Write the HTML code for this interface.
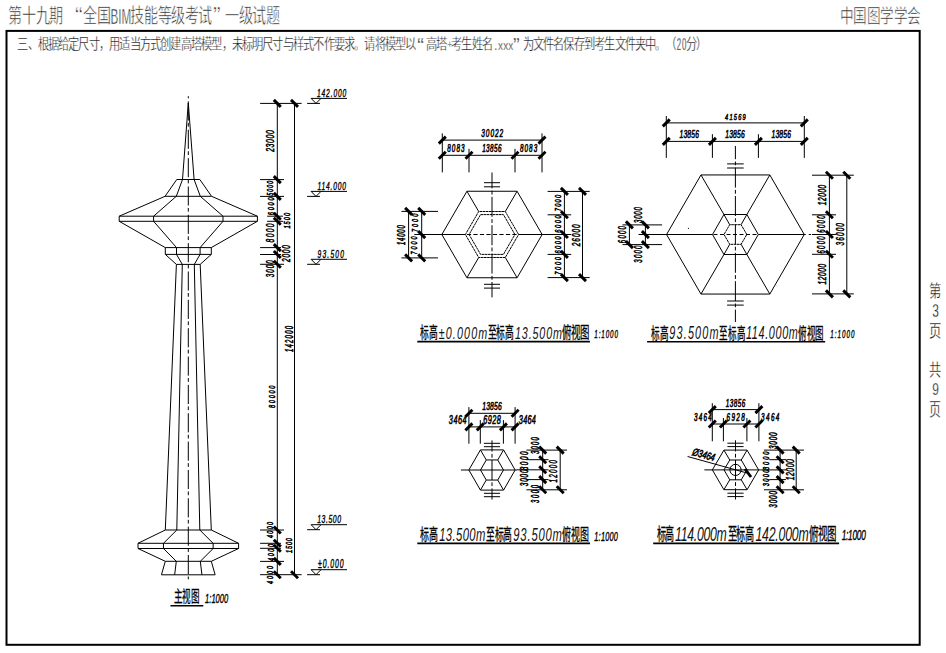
<!DOCTYPE html>
<html lang="zh-CN"><head><meta charset="utf-8"><title>高塔试题</title><style>
html,body{margin:0;padding:0;background:#fff;}
body{width:946px;height:653px;overflow:hidden;position:relative;}
svg{position:absolute;left:0;top:0;}
line,polyline,polygon,rect,circle{stroke:#000;fill:none;}
text{font-family:"Liberation Sans",sans-serif;fill:#000;}
.cad{font-style:italic;stroke:#000;stroke-width:0.6px;}
.elv{font-style:italic;stroke:#000;stroke-width:0.4px;}
.cjk{fill:#222;stroke:#fff;stroke-width:0.55px;}
.cjks{fill:#111;stroke:#fff;stroke-width:0.3px;}
.cjkb{fill:#000;stroke:#000;stroke-width:0.3px;}
.capn{font-style:italic;fill:#111;}
</style></head><body>
<svg width="946" height="653" viewBox="0 0 946 653">
<rect x="6.5" y="30.9" width="913.2" height="613.9" stroke-width="2.0"/>
<line x1="182.50" y1="179.50" x2="188.30" y2="103.00" stroke-width="1.0" />
<line x1="194.10" y1="179.50" x2="188.30" y2="103.00" stroke-width="1.0" />
<line x1="176.75" y1="179.50" x2="199.85" y2="179.50" stroke-width="1.0" />
<line x1="165.05" y1="196.30" x2="211.55" y2="196.30" stroke-width="1.0" />
<line x1="176.75" y1="179.50" x2="165.05" y2="196.30" stroke-width="1.0" />
<line x1="199.85" y1="179.50" x2="211.55" y2="196.30" stroke-width="1.0" />
<line x1="182.50" y1="179.50" x2="176.30" y2="196.30" stroke-width="1.0" />
<line x1="194.10" y1="179.50" x2="200.30" y2="196.30" stroke-width="1.0" />
<line x1="165.05" y1="196.30" x2="119.20" y2="216.20" stroke-width="1.0" />
<line x1="211.55" y1="196.30" x2="257.40" y2="216.20" stroke-width="1.0" />
<line x1="176.30" y1="196.30" x2="153.60" y2="216.20" stroke-width="1.0" />
<line x1="200.30" y1="196.30" x2="223.00" y2="216.20" stroke-width="1.0" />
<line x1="119.20" y1="216.20" x2="257.40" y2="216.20" stroke-width="1.0" />
<line x1="119.20" y1="221.30" x2="257.40" y2="221.30" stroke-width="1.0" />
<line x1="119.20" y1="216.20" x2="119.20" y2="221.30" stroke-width="1.0" />
<line x1="257.40" y1="216.20" x2="257.40" y2="221.30" stroke-width="1.0" />
<line x1="153.60" y1="216.20" x2="153.60" y2="221.30" stroke-width="1.0" />
<line x1="223.00" y1="216.20" x2="223.00" y2="221.30" stroke-width="1.0" />
<line x1="119.20" y1="221.30" x2="165.30" y2="247.60" stroke-width="1.0" />
<line x1="257.40" y1="221.30" x2="211.30" y2="247.60" stroke-width="1.0" />
<line x1="153.60" y1="221.30" x2="176.50" y2="247.60" stroke-width="1.0" />
<line x1="223.00" y1="221.30" x2="200.10" y2="247.60" stroke-width="1.0" />
<line x1="165.30" y1="247.60" x2="211.30" y2="247.60" stroke-width="1.0" />
<line x1="165.30" y1="254.40" x2="211.30" y2="254.40" stroke-width="1.0" />
<line x1="165.30" y1="247.60" x2="165.30" y2="254.40" stroke-width="1.0" />
<line x1="211.30" y1="247.60" x2="211.30" y2="254.40" stroke-width="1.0" />
<line x1="176.50" y1="247.60" x2="176.50" y2="254.40" stroke-width="1.0" />
<line x1="200.10" y1="247.60" x2="200.10" y2="254.40" stroke-width="1.0" />
<line x1="176.40" y1="264.40" x2="200.20" y2="264.40" stroke-width="1.0" />
<line x1="165.30" y1="254.40" x2="176.40" y2="264.40" stroke-width="1.0" />
<line x1="211.30" y1="254.40" x2="200.20" y2="264.40" stroke-width="1.0" />
<line x1="176.50" y1="254.40" x2="182.30" y2="264.40" stroke-width="1.0" />
<line x1="200.10" y1="254.40" x2="194.30" y2="264.40" stroke-width="1.0" />
<line x1="176.40" y1="264.40" x2="165.30" y2="530.00" stroke-width="1.0" />
<line x1="200.20" y1="264.40" x2="211.30" y2="530.00" stroke-width="1.0" />
<line x1="182.30" y1="264.40" x2="176.80" y2="530.00" stroke-width="1.0" />
<line x1="194.30" y1="264.40" x2="199.80" y2="530.00" stroke-width="1.0" />
<line x1="165.30" y1="530.00" x2="211.30" y2="530.00" stroke-width="1.0" />
<line x1="165.30" y1="530.00" x2="138.00" y2="543.30" stroke-width="1.0" />
<line x1="211.30" y1="530.00" x2="238.60" y2="543.30" stroke-width="1.0" />
<line x1="176.80" y1="530.00" x2="163.45" y2="543.30" stroke-width="1.0" />
<line x1="199.80" y1="530.00" x2="213.15" y2="543.30" stroke-width="1.0" />
<line x1="138.00" y1="543.30" x2="238.60" y2="543.30" stroke-width="1.0" />
<line x1="138.00" y1="548.50" x2="238.60" y2="548.50" stroke-width="1.0" />
<line x1="138.00" y1="543.30" x2="138.00" y2="548.50" stroke-width="1.0" />
<line x1="238.60" y1="543.30" x2="238.60" y2="548.50" stroke-width="1.0" />
<line x1="163.45" y1="543.30" x2="163.45" y2="548.50" stroke-width="1.0" />
<line x1="213.15" y1="543.30" x2="213.15" y2="548.50" stroke-width="1.0" />
<line x1="138.00" y1="548.50" x2="165.30" y2="561.30" stroke-width="1.0" />
<line x1="238.60" y1="548.50" x2="211.30" y2="561.30" stroke-width="1.0" />
<line x1="163.45" y1="548.50" x2="176.30" y2="561.30" stroke-width="1.0" />
<line x1="213.15" y1="548.50" x2="200.30" y2="561.30" stroke-width="1.0" />
<line x1="165.30" y1="561.30" x2="211.30" y2="561.30" stroke-width="1.0" />
<line x1="165.30" y1="561.30" x2="161.45" y2="574.80" stroke-width="1.0" />
<line x1="211.30" y1="561.30" x2="215.15" y2="574.80" stroke-width="1.0" />
<line x1="176.30" y1="561.30" x2="174.65" y2="574.80" stroke-width="1.0" />
<line x1="200.30" y1="561.30" x2="201.95" y2="574.80" stroke-width="1.0" />
<line x1="161.45" y1="574.80" x2="215.15" y2="574.80" stroke-width="1.0" />
<line x1="188.30" y1="96.20" x2="188.30" y2="579.30" stroke-width="1.0" stroke-dasharray="19.1 2.4 3.75 3.1" stroke-dashoffset="23.15"/>
<line x1="260.10" y1="103.40" x2="301.60" y2="103.40" stroke-width="1.0" />
<line x1="273.80" y1="99.90" x2="280.80" y2="106.90" stroke-width="2.9" />
<line x1="260.10" y1="179.60" x2="284.00" y2="179.60" stroke-width="1.0" />
<line x1="273.80" y1="176.10" x2="280.80" y2="183.10" stroke-width="2.9" />
<line x1="260.10" y1="196.40" x2="284.00" y2="196.40" stroke-width="1.0" />
<line x1="273.80" y1="192.90" x2="280.80" y2="199.90" stroke-width="2.9" />
<line x1="267.10" y1="216.20" x2="283.00" y2="216.20" stroke-width="1.0" />
<line x1="273.80" y1="212.70" x2="280.80" y2="219.70" stroke-width="2.9" />
<line x1="267.10" y1="221.30" x2="283.00" y2="221.30" stroke-width="1.0" />
<line x1="273.80" y1="217.80" x2="280.80" y2="224.80" stroke-width="2.9" />
<line x1="260.10" y1="247.60" x2="281.00" y2="247.60" stroke-width="1.0" />
<line x1="273.80" y1="244.10" x2="280.80" y2="251.10" stroke-width="2.9" />
<line x1="260.10" y1="254.50" x2="281.00" y2="254.50" stroke-width="1.0" />
<line x1="273.80" y1="251.00" x2="280.80" y2="258.00" stroke-width="2.9" />
<line x1="260.10" y1="264.30" x2="284.00" y2="264.30" stroke-width="1.0" />
<line x1="273.80" y1="260.80" x2="280.80" y2="267.80" stroke-width="2.9" />
<line x1="260.10" y1="530.00" x2="284.00" y2="530.00" stroke-width="1.0" />
<line x1="273.80" y1="526.50" x2="280.80" y2="533.50" stroke-width="2.9" />
<line x1="260.10" y1="543.30" x2="281.00" y2="543.30" stroke-width="1.0" />
<line x1="273.80" y1="539.80" x2="280.80" y2="546.80" stroke-width="2.9" />
<line x1="260.10" y1="548.30" x2="281.00" y2="548.30" stroke-width="1.0" />
<line x1="273.80" y1="544.80" x2="280.80" y2="551.80" stroke-width="2.9" />
<line x1="260.10" y1="561.40" x2="284.00" y2="561.40" stroke-width="1.0" />
<line x1="273.80" y1="557.90" x2="280.80" y2="564.90" stroke-width="2.9" />
<line x1="260.10" y1="574.70" x2="301.60" y2="574.70" stroke-width="1.0" />
<line x1="273.80" y1="571.20" x2="280.80" y2="578.20" stroke-width="2.9" />
<line x1="291.00" y1="99.90" x2="298.00" y2="106.90" stroke-width="2.9" />
<line x1="291.00" y1="571.20" x2="298.00" y2="578.20" stroke-width="2.9" />
<line x1="277.30" y1="103.40" x2="277.30" y2="574.70" stroke-width="1.0" />
<line x1="294.50" y1="103.40" x2="294.50" y2="574.70" stroke-width="1.0" />
<line x1="307.10" y1="103.40" x2="320.00" y2="103.40" stroke-width="1.0" />
<polyline points="311.10,98.40 316.00,103.40 321.00,98.40" stroke-width="1.0" />
<line x1="311.10" y1="98.40" x2="347.00" y2="98.40" stroke-width="1.0" />
<line x1="307.10" y1="196.40" x2="320.00" y2="196.40" stroke-width="1.0" />
<polyline points="311.10,191.40 316.00,196.40 321.00,191.40" stroke-width="1.0" />
<line x1="311.10" y1="191.40" x2="347.00" y2="191.40" stroke-width="1.0" />
<line x1="307.10" y1="264.30" x2="320.00" y2="264.30" stroke-width="1.0" />
<polyline points="311.10,259.30 316.00,264.30 321.00,259.30" stroke-width="1.0" />
<line x1="311.10" y1="259.30" x2="347.00" y2="259.30" stroke-width="1.0" />
<line x1="307.10" y1="529.70" x2="320.00" y2="529.70" stroke-width="1.0" />
<polyline points="311.10,524.70 316.00,529.70 321.00,524.70" stroke-width="1.0" />
<line x1="311.10" y1="524.70" x2="347.00" y2="524.70" stroke-width="1.0" />
<line x1="307.10" y1="574.70" x2="320.00" y2="574.70" stroke-width="1.0" />
<polyline points="311.10,569.70 316.00,574.70 321.00,569.70" stroke-width="1.0" />
<line x1="311.10" y1="569.70" x2="347.00" y2="569.70" stroke-width="1.0" />
<polygon points="542.15,234.50 517.08,191.25 466.93,191.25 441.85,234.50 466.93,277.75 517.08,277.75" stroke-width="1.0" />
<polygon points="518.60,234.50 505.30,211.50 478.70,211.50 465.40,234.50 478.70,257.50 505.30,257.50" stroke-width="1.0" stroke-dasharray="2.6 0.5"/>
<polygon points="514.90,234.50 503.45,214.60 480.55,214.60 469.10,234.50 480.55,254.40 503.45,254.40" stroke-width="1.0" stroke-dasharray="2.6 0.5"/>
<line x1="517.08" y1="191.25" x2="505.30" y2="211.50" stroke-width="1.0" />
<line x1="466.93" y1="191.25" x2="478.70" y2="211.50" stroke-width="1.0" />
<line x1="466.93" y1="277.75" x2="478.70" y2="257.50" stroke-width="1.0" />
<line x1="517.08" y1="277.75" x2="505.30" y2="257.50" stroke-width="1.0" />
<line x1="414.30" y1="234.50" x2="465.40" y2="234.50" stroke-width="1.0" />
<line x1="518.60" y1="234.50" x2="571.20" y2="234.50" stroke-width="1.0" />
<line x1="465.40" y1="234.50" x2="518.60" y2="234.50" stroke-width="1.0" stroke-dasharray="4.2 2.3" stroke-dashoffset="-1.5"/>
<line x1="492.00" y1="172.50" x2="492.00" y2="297.40" stroke-width="1.0" stroke-dasharray="20.0 2.3 3.8 2.3" stroke-dashoffset="4.10"/>
<line x1="484.00" y1="182.70" x2="500.00" y2="182.70" stroke-width="1.0" />
<line x1="484.00" y1="186.80" x2="500.00" y2="186.80" stroke-width="1.0" />
<line x1="484.00" y1="284.30" x2="500.00" y2="284.30" stroke-width="1.0" />
<line x1="484.00" y1="288.10" x2="500.00" y2="288.10" stroke-width="1.0" />
<line x1="442.30" y1="140.10" x2="542.00" y2="140.10" stroke-width="1.0" />
<line x1="438.80" y1="143.60" x2="445.80" y2="136.60" stroke-width="2.9" />
<line x1="538.50" y1="143.60" x2="545.50" y2="136.60" stroke-width="2.9" />
<line x1="442.30" y1="155.30" x2="542.00" y2="155.30" stroke-width="1.0" />
<line x1="438.80" y1="158.80" x2="445.80" y2="151.80" stroke-width="2.9" />
<line x1="465.50" y1="158.80" x2="472.50" y2="151.80" stroke-width="2.9" />
<line x1="511.50" y1="158.80" x2="518.50" y2="151.80" stroke-width="2.9" />
<line x1="538.50" y1="158.80" x2="545.50" y2="151.80" stroke-width="2.9" />
<line x1="442.30" y1="133.40" x2="442.30" y2="172.40" stroke-width="1.0" />
<line x1="542.00" y1="133.40" x2="542.00" y2="172.40" stroke-width="1.0" />
<line x1="469.00" y1="148.80" x2="469.00" y2="172.40" stroke-width="1.0" />
<line x1="515.00" y1="148.80" x2="515.00" y2="172.40" stroke-width="1.0" />
<line x1="401.40" y1="211.40" x2="438.00" y2="211.40" stroke-width="1.0" />
<line x1="401.40" y1="257.90" x2="438.00" y2="257.90" stroke-width="1.0" />
<line x1="408.60" y1="211.40" x2="408.60" y2="257.90" stroke-width="1.0" />
<line x1="405.10" y1="207.90" x2="412.10" y2="214.90" stroke-width="2.9" />
<line x1="405.10" y1="254.40" x2="412.10" y2="261.40" stroke-width="2.9" />
<line x1="421.70" y1="211.40" x2="421.70" y2="257.90" stroke-width="1.0" />
<line x1="418.20" y1="207.90" x2="425.20" y2="214.90" stroke-width="2.9" />
<line x1="418.20" y1="231.10" x2="425.20" y2="238.10" stroke-width="2.9" />
<line x1="418.20" y1="254.40" x2="425.20" y2="261.40" stroke-width="2.9" />
<line x1="547.60" y1="191.40" x2="589.70" y2="191.40" stroke-width="1.0" />
<line x1="547.60" y1="277.60" x2="589.70" y2="277.60" stroke-width="1.0" />
<line x1="547.60" y1="214.80" x2="571.20" y2="214.80" stroke-width="1.0" />
<line x1="547.60" y1="254.40" x2="571.20" y2="254.40" stroke-width="1.0" />
<line x1="564.40" y1="191.40" x2="564.40" y2="277.60" stroke-width="1.0" />
<line x1="560.90" y1="187.90" x2="567.90" y2="194.90" stroke-width="2.9" />
<line x1="560.90" y1="211.30" x2="567.90" y2="218.30" stroke-width="2.9" />
<line x1="560.90" y1="231.00" x2="567.90" y2="238.00" stroke-width="2.9" />
<line x1="560.90" y1="250.90" x2="567.90" y2="257.90" stroke-width="2.9" />
<line x1="560.90" y1="274.10" x2="567.90" y2="281.10" stroke-width="2.9" />
<line x1="582.50" y1="191.40" x2="582.50" y2="277.60" stroke-width="1.0" />
<line x1="579.00" y1="187.90" x2="586.00" y2="194.90" stroke-width="2.9" />
<line x1="579.00" y1="274.10" x2="586.00" y2="281.10" stroke-width="2.9" />
<polygon points="804.25,234.50 769.82,174.95 700.98,174.95 666.55,234.50 700.98,294.05 769.82,294.05" stroke-width="1.0" />
<polygon points="758.30,234.50 746.85,214.50 723.95,214.50 712.50,234.50 723.95,254.50 746.85,254.50" stroke-width="1.0" />
<polygon points="746.80,234.50 741.10,224.70 729.70,224.70 724.00,234.50 729.70,244.30 741.10,244.30" stroke-width="1.0" stroke-dasharray="2.6 0.5"/>
<line x1="769.82" y1="174.95" x2="746.85" y2="214.50" stroke-width="1.0" />
<line x1="700.98" y1="174.95" x2="723.95" y2="214.50" stroke-width="1.0" />
<line x1="700.98" y1="294.05" x2="723.95" y2="254.50" stroke-width="1.0" />
<line x1="769.82" y1="294.05" x2="746.85" y2="254.50" stroke-width="1.0" />
<line x1="746.85" y1="214.50" x2="741.10" y2="224.70" stroke-width="1.0" />
<line x1="723.95" y1="214.50" x2="729.70" y2="224.70" stroke-width="1.0" />
<line x1="723.95" y1="254.50" x2="729.70" y2="244.30" stroke-width="1.0" />
<line x1="746.85" y1="254.50" x2="741.10" y2="244.30" stroke-width="1.0" />
<line x1="638.50" y1="234.50" x2="712.50" y2="234.50" stroke-width="1.0" />
<line x1="758.30" y1="234.50" x2="805.75" y2="234.50" stroke-width="1.0" />
<line x1="712.50" y1="234.50" x2="758.30" y2="234.50" stroke-width="1.0" stroke-dasharray="4 2.5" stroke-dashoffset="-1"/>
<line x1="808.75" y1="234.50" x2="811.05" y2="234.50" stroke-width="1.0" />
<line x1="812.00" y1="234.50" x2="835.80" y2="234.50" stroke-width="1.0" />
<circle cx="688.4" cy="228.4" r="0.55" fill="#000" stroke="none" style="fill:#000;stroke:none"/>
<line x1="735.40" y1="146.00" x2="735.40" y2="322.00" stroke-width="1.0" stroke-dasharray="20.0 2.3 3.8 2.3" stroke-dashoffset="6.80"/>
<line x1="727.10" y1="163.90" x2="743.70" y2="163.90" stroke-width="1.0" />
<line x1="727.10" y1="168.00" x2="743.70" y2="168.00" stroke-width="1.0" />
<line x1="727.10" y1="301.00" x2="743.70" y2="301.00" stroke-width="1.0" />
<line x1="727.10" y1="305.10" x2="743.70" y2="305.10" stroke-width="1.0" />
<line x1="666.30" y1="122.90" x2="804.30" y2="122.90" stroke-width="1.0" />
<line x1="662.80" y1="126.40" x2="669.80" y2="119.40" stroke-width="2.9" />
<line x1="800.80" y1="126.40" x2="807.80" y2="119.40" stroke-width="2.9" />
<line x1="666.30" y1="141.40" x2="804.30" y2="141.40" stroke-width="1.0" />
<line x1="662.80" y1="144.90" x2="669.80" y2="137.90" stroke-width="2.9" />
<line x1="708.90" y1="144.90" x2="715.90" y2="137.90" stroke-width="2.9" />
<line x1="754.90" y1="144.90" x2="761.90" y2="137.90" stroke-width="2.9" />
<line x1="800.80" y1="144.90" x2="807.80" y2="137.90" stroke-width="2.9" />
<line x1="666.30" y1="116.00" x2="666.30" y2="157.90" stroke-width="1.0" />
<line x1="804.30" y1="116.00" x2="804.30" y2="157.90" stroke-width="1.0" />
<line x1="712.40" y1="134.20" x2="712.40" y2="157.90" stroke-width="1.0" />
<line x1="758.40" y1="134.20" x2="758.40" y2="157.90" stroke-width="1.0" />
<line x1="622.50" y1="224.90" x2="662.10" y2="224.90" stroke-width="1.0" />
<line x1="622.50" y1="244.60" x2="662.10" y2="244.60" stroke-width="1.0" />
<line x1="629.40" y1="224.90" x2="629.40" y2="244.60" stroke-width="1.0" />
<line x1="625.90" y1="221.40" x2="632.90" y2="228.40" stroke-width="2.9" />
<line x1="625.90" y1="241.10" x2="632.90" y2="248.10" stroke-width="2.9" />
<line x1="645.40" y1="224.90" x2="645.40" y2="244.60" stroke-width="1.0" />
<line x1="641.90" y1="221.40" x2="648.90" y2="228.40" stroke-width="2.9" />
<line x1="641.90" y1="231.10" x2="648.90" y2="238.10" stroke-width="2.9" />
<line x1="641.90" y1="241.10" x2="648.90" y2="248.10" stroke-width="2.9" />
<line x1="812.00" y1="175.20" x2="853.80" y2="175.20" stroke-width="1.0" />
<line x1="812.00" y1="293.90" x2="853.80" y2="293.90" stroke-width="1.0" />
<line x1="812.00" y1="214.80" x2="836.00" y2="214.80" stroke-width="1.0" />
<line x1="812.00" y1="254.30" x2="836.00" y2="254.30" stroke-width="1.0" />
<line x1="829.40" y1="175.20" x2="829.40" y2="293.90" stroke-width="1.0" />
<line x1="825.90" y1="171.70" x2="832.90" y2="178.70" stroke-width="2.9" />
<line x1="825.90" y1="211.30" x2="832.90" y2="218.30" stroke-width="2.9" />
<line x1="825.90" y1="231.00" x2="832.90" y2="238.00" stroke-width="2.9" />
<line x1="825.90" y1="250.80" x2="832.90" y2="257.80" stroke-width="2.9" />
<line x1="825.90" y1="290.40" x2="832.90" y2="297.40" stroke-width="2.9" />
<line x1="846.80" y1="175.20" x2="846.80" y2="293.90" stroke-width="1.0" />
<line x1="843.30" y1="171.70" x2="850.30" y2="178.70" stroke-width="2.9" />
<line x1="843.30" y1="290.40" x2="850.30" y2="297.40" stroke-width="2.9" />
<polygon points="515.15,470.00 503.57,449.90 480.43,449.90 468.85,470.00 480.43,490.10 503.57,490.10" stroke-width="1.0" />
<polygon points="503.50,470.00 497.75,459.95 486.25,459.95 480.50,470.00 486.25,480.05 497.75,480.05" stroke-width="1.0" />
<line x1="503.57" y1="449.90" x2="497.75" y2="459.95" stroke-width="1.0" />
<line x1="480.43" y1="449.90" x2="486.25" y2="459.95" stroke-width="1.0" />
<line x1="480.43" y1="490.10" x2="486.25" y2="480.05" stroke-width="1.0" />
<line x1="503.57" y1="490.10" x2="497.75" y2="480.05" stroke-width="1.0" />
<line x1="460.90" y1="470.00" x2="517.00" y2="470.00" stroke-width="1.0" />
<line x1="492.00" y1="440.40" x2="492.00" y2="499.60" stroke-width="1.0" stroke-dasharray="20.0 2.3 3.8 2.3" stroke-dashoffset="8.80"/>
<line x1="483.90" y1="443.30" x2="500.10" y2="443.30" stroke-width="1.0" />
<line x1="483.90" y1="446.70" x2="500.10" y2="446.70" stroke-width="1.0" />
<line x1="483.90" y1="493.30" x2="500.10" y2="493.30" stroke-width="1.0" />
<line x1="483.90" y1="496.70" x2="500.10" y2="496.70" stroke-width="1.0" />
<line x1="468.90" y1="413.30" x2="515.10" y2="413.30" stroke-width="1.0" />
<line x1="465.40" y1="416.80" x2="472.40" y2="409.80" stroke-width="2.9" />
<line x1="511.60" y1="416.80" x2="518.60" y2="409.80" stroke-width="2.9" />
<line x1="468.90" y1="426.90" x2="515.10" y2="426.90" stroke-width="1.0" />
<line x1="465.40" y1="430.40" x2="472.40" y2="423.40" stroke-width="2.9" />
<line x1="476.80" y1="430.40" x2="483.80" y2="423.40" stroke-width="2.9" />
<line x1="499.90" y1="430.40" x2="506.90" y2="423.40" stroke-width="2.9" />
<line x1="511.60" y1="430.40" x2="518.60" y2="423.40" stroke-width="2.9" />
<line x1="468.90" y1="407.10" x2="468.90" y2="443.70" stroke-width="1.0" />
<line x1="515.10" y1="407.10" x2="515.10" y2="443.70" stroke-width="1.0" />
<line x1="480.30" y1="420.10" x2="480.30" y2="443.70" stroke-width="1.0" />
<line x1="503.40" y1="420.10" x2="503.40" y2="443.70" stroke-width="1.0" />
<line x1="526.40" y1="450.10" x2="567.00" y2="450.10" stroke-width="1.0" />
<line x1="526.40" y1="489.80" x2="567.00" y2="489.80" stroke-width="1.0" />
<line x1="526.40" y1="459.70" x2="548.50" y2="459.70" stroke-width="1.0" />
<line x1="517.00" y1="469.80" x2="548.50" y2="469.80" stroke-width="1.0" />
<line x1="526.40" y1="479.60" x2="548.50" y2="479.60" stroke-width="1.0" />
<line x1="542.70" y1="450.10" x2="542.70" y2="489.80" stroke-width="1.0" />
<line x1="539.20" y1="446.60" x2="546.20" y2="453.60" stroke-width="2.9" />
<line x1="539.20" y1="456.20" x2="546.20" y2="463.20" stroke-width="2.9" />
<line x1="539.20" y1="466.30" x2="546.20" y2="473.30" stroke-width="2.9" />
<line x1="539.20" y1="476.10" x2="546.20" y2="483.10" stroke-width="2.9" />
<line x1="539.20" y1="486.30" x2="546.20" y2="493.30" stroke-width="2.9" />
<line x1="560.20" y1="450.10" x2="560.20" y2="489.80" stroke-width="1.0" />
<line x1="556.70" y1="446.60" x2="563.70" y2="453.60" stroke-width="2.9" />
<line x1="556.70" y1="486.30" x2="563.70" y2="493.30" stroke-width="2.9" />
<polygon points="758.65,469.90 747.08,450.10 723.92,450.10 712.35,469.90 723.92,489.70 747.08,489.70" stroke-width="1.0" />
<polygon points="747.00,469.90 741.25,460.00 729.75,460.00 724.00,469.90 729.75,479.80 741.25,479.80" stroke-width="1.0" />
<line x1="747.08" y1="450.10" x2="741.25" y2="460.00" stroke-width="1.0" />
<line x1="723.92" y1="450.10" x2="729.75" y2="460.00" stroke-width="1.0" />
<line x1="723.92" y1="489.70" x2="729.75" y2="479.80" stroke-width="1.0" />
<line x1="747.08" y1="489.70" x2="741.25" y2="479.80" stroke-width="1.0" />
<line x1="704.40" y1="469.90" x2="760.50" y2="469.90" stroke-width="1.0" />
<line x1="735.50" y1="440.30" x2="735.50" y2="499.50" stroke-width="1.0" stroke-dasharray="20.0 2.3 3.8 2.3" stroke-dashoffset="8.80"/>
<line x1="727.40" y1="443.20" x2="743.60" y2="443.20" stroke-width="1.0" />
<line x1="727.40" y1="446.60" x2="743.60" y2="446.60" stroke-width="1.0" />
<line x1="727.40" y1="493.20" x2="743.60" y2="493.20" stroke-width="1.0" />
<line x1="727.40" y1="496.60" x2="743.60" y2="496.60" stroke-width="1.0" />
<circle cx="735.5" cy="469.9" r="5.6" stroke-width="1"/>
<line x1="712.30" y1="409.60" x2="758.90" y2="409.60" stroke-width="1.0" />
<line x1="708.80" y1="413.10" x2="715.80" y2="406.10" stroke-width="2.9" />
<line x1="755.40" y1="413.10" x2="762.40" y2="406.10" stroke-width="2.9" />
<line x1="712.30" y1="424.00" x2="758.90" y2="424.00" stroke-width="1.0" />
<line x1="708.80" y1="427.50" x2="715.80" y2="420.50" stroke-width="2.9" />
<line x1="719.90" y1="427.50" x2="726.90" y2="420.50" stroke-width="2.9" />
<line x1="743.40" y1="427.50" x2="750.40" y2="420.50" stroke-width="2.9" />
<line x1="755.40" y1="427.50" x2="762.40" y2="420.50" stroke-width="2.9" />
<line x1="712.30" y1="403.20" x2="712.30" y2="441.30" stroke-width="1.0" />
<line x1="758.90" y1="403.20" x2="758.90" y2="441.30" stroke-width="1.0" />
<line x1="723.40" y1="418.00" x2="723.40" y2="441.30" stroke-width="1.0" />
<line x1="746.90" y1="418.00" x2="746.90" y2="441.30" stroke-width="1.0" />
<line x1="764.00" y1="450.10" x2="804.00" y2="450.10" stroke-width="1.0" />
<line x1="764.00" y1="489.80" x2="804.00" y2="489.80" stroke-width="1.0" />
<line x1="769.30" y1="459.70" x2="786.00" y2="459.70" stroke-width="1.0" />
<line x1="760.50" y1="469.90" x2="786.00" y2="469.90" stroke-width="1.0" />
<line x1="769.30" y1="479.60" x2="786.00" y2="479.60" stroke-width="1.0" />
<line x1="780.10" y1="450.10" x2="780.10" y2="489.80" stroke-width="1.0" />
<line x1="776.60" y1="446.60" x2="783.60" y2="453.60" stroke-width="2.9" />
<line x1="776.60" y1="456.20" x2="783.60" y2="463.20" stroke-width="2.9" />
<line x1="776.60" y1="466.40" x2="783.60" y2="473.40" stroke-width="2.9" />
<line x1="776.60" y1="476.10" x2="783.60" y2="483.10" stroke-width="2.9" />
<line x1="776.60" y1="486.30" x2="783.60" y2="493.30" stroke-width="2.9" />
<line x1="796.20" y1="450.10" x2="796.20" y2="489.80" stroke-width="1.0" />
<line x1="792.70" y1="446.60" x2="799.70" y2="453.60" stroke-width="2.9" />
<line x1="792.70" y1="486.30" x2="799.70" y2="493.30" stroke-width="2.9" />
<line x1="687.60" y1="456.50" x2="748.10" y2="473.30" stroke-width="1.0" />
<line x1="745.00" y1="469.00" x2="751.00" y2="477.00" stroke-width="2.9" />
<line x1="417.30" y1="341.60" x2="589.90" y2="341.60" stroke-width="1.6" />
<line x1="647.10" y1="341.70" x2="825.20" y2="341.70" stroke-width="1.6" />
<line x1="417.30" y1="543.40" x2="590.00" y2="543.40" stroke-width="1.6" />
<line x1="653.20" y1="543.40" x2="839.10" y2="543.40" stroke-width="1.6" />
<line x1="170.50" y1="605.70" x2="203.30" y2="605.70" stroke-width="1.6" />
<g transform="translate(274.40 151.80) rotate(-90) scale(0.58 1)"><text class="cad" x="0" y="0" font-size="11.73" textLength="37.07" lengthAdjust="spacing">23000</text></g>
<g transform="translate(273.40 195.80) rotate(-90) scale(0.58 1)"><text class="cad" x="0" y="0" font-size="9.08" textLength="25.86" lengthAdjust="spacing">5000</text></g>
<g transform="translate(274.30 215.20) rotate(-90) scale(0.58 1)"><text class="cad" x="0" y="0" font-size="9.92" textLength="30.69" lengthAdjust="spacing">6000</text></g>
<g transform="translate(290.40 228.50) rotate(-90) scale(0.58 1)"><text class="cad" x="0" y="0" font-size="9.92" textLength="26.90" lengthAdjust="spacing">1500</text></g>
<g transform="translate(273.80 242.40) rotate(-90) scale(0.58 1)"><text class="cad" x="0" y="0" font-size="11.45" textLength="32.41" lengthAdjust="spacing">8000</text></g>
<g transform="translate(290.40 262.00) rotate(-90) scale(0.58 1)"><text class="cad" x="0" y="0" font-size="11.17" textLength="28.97" lengthAdjust="spacing">2000</text></g>
<g transform="translate(273.60 277.20) rotate(-90) scale(0.58 1)"><text class="cad" x="0" y="0" font-size="10.61" textLength="28.97" lengthAdjust="spacing">3000</text></g>
<g transform="translate(292.80 352.00) rotate(-90) scale(0.58 1)"><text class="cad" x="0" y="0" font-size="10.20" textLength="44.83" lengthAdjust="spacing">142000</text></g>
<g transform="translate(275.00 408.00) rotate(-90) scale(0.58 1)"><text class="cad" x="0" y="0" font-size="9.78" textLength="38.79" lengthAdjust="spacing">80000</text></g>
<g transform="translate(273.20 538.00) rotate(-90) scale(0.58 1)"><text class="cad" x="0" y="0" font-size="9.36" textLength="27.59" lengthAdjust="spacing">4000</text></g>
<g transform="translate(292.00 553.00) rotate(-90) scale(0.58 1)"><text class="cad" x="0" y="0" font-size="9.78" textLength="25.86" lengthAdjust="spacing">1500</text></g>
<g transform="translate(273.50 561.00) rotate(-90) scale(0.58 1)"><text class="cad" x="0" y="0" font-size="9.36" textLength="29.31" lengthAdjust="spacing">4000</text></g>
<g transform="translate(273.20 584.00) rotate(-90) scale(0.58 1)"><text class="cad" x="0" y="0" font-size="9.36" textLength="31.03" lengthAdjust="spacing">4000</text></g>
<g transform="translate(316.90 96.60) scale(0.58 1)"><text class="elv" x="0" y="0" font-size="11.45" textLength="50.69" lengthAdjust="spacing">142.000</text></g>
<g transform="translate(317.50 189.70) scale(0.58 1)"><text class="elv" x="0" y="0" font-size="11.45" textLength="49.14" lengthAdjust="spacing">114.000</text></g>
<g transform="translate(317.50 257.50) scale(0.58 1)"><text class="elv" x="0" y="0" font-size="11.45" textLength="45.69" lengthAdjust="spacing">93.500</text></g>
<g transform="translate(317.20 523.20) scale(0.58 1)"><text class="elv" x="0" y="0" font-size="11.73" textLength="41.03" lengthAdjust="spacing">13.500</text></g>
<g transform="translate(318.00 568.20) scale(0.58 1)"><text class="elv" x="0" y="0" font-size="11.87" textLength="43.97" lengthAdjust="spacing">±0.000</text></g>
<g transform="translate(481.30 137.20) scale(0.58 1)"><text class="cad" x="0" y="0" font-size="11.17" textLength="37.59" lengthAdjust="spacing">30022</text></g>
<g transform="translate(447.20 151.90) scale(0.58 1)"><text class="cad" x="0" y="0" font-size="10.89" textLength="29.83" lengthAdjust="spacing">8083</text></g>
<g transform="translate(482.20 151.90) scale(0.58 1)"><text class="cad" x="0" y="0" font-size="10.89" textLength="33.10" lengthAdjust="spacing">13856</text></g>
<g transform="translate(519.90 151.90) scale(0.58 1)"><text class="cad" x="0" y="0" font-size="10.89" textLength="29.83" lengthAdjust="spacing">8083</text></g>
<g transform="translate(404.70 245.00) rotate(-90) scale(0.58 1)"><text class="cad" x="0" y="0" font-size="10.34" textLength="34.14" lengthAdjust="spacing">14000</text></g>
<g transform="translate(417.80 232.10) rotate(-90) scale(0.58 1)"><text class="cad" x="0" y="0" font-size="9.50" textLength="31.72" lengthAdjust="spacing">7000</text></g>
<g transform="translate(416.70 254.60) rotate(-90) scale(0.58 1)"><text class="cad" x="0" y="0" font-size="9.64" textLength="31.55" lengthAdjust="spacing">7000</text></g>
<g transform="translate(560.60 211.20) rotate(-90) scale(0.58 1)"><text class="cad" x="0" y="0" font-size="9.92" textLength="28.28" lengthAdjust="spacing">7000</text></g>
<g transform="translate(560.60 232.70) rotate(-90) scale(0.58 1)"><text class="cad" x="0" y="0" font-size="9.92" textLength="29.83" lengthAdjust="spacing">6000</text></g>
<g transform="translate(560.60 253.60) rotate(-90) scale(0.58 1)"><text class="cad" x="0" y="0" font-size="9.92" textLength="29.83" lengthAdjust="spacing">6000</text></g>
<g transform="translate(560.60 274.80) rotate(-90) scale(0.58 1)"><text class="cad" x="0" y="0" font-size="9.92" textLength="30.69" lengthAdjust="spacing">7000</text></g>
<g transform="translate(579.50 246.30) rotate(-90) scale(0.58 1)"><text class="cad" x="0" y="0" font-size="11.17" textLength="37.93" lengthAdjust="spacing">26000</text></g>
<g transform="translate(725.10 120.00) scale(0.58 1)"><text class="cad" x="0" y="0" font-size="9.78" textLength="35.52" lengthAdjust="spacing">41569</text></g>
<g transform="translate(679.50 137.80) scale(0.58 1)"><text class="cad" x="0" y="0" font-size="11.59" textLength="33.45" lengthAdjust="spacing">13856</text></g>
<g transform="translate(725.30 137.80) scale(0.58 1)"><text class="cad" x="0" y="0" font-size="11.59" textLength="33.45" lengthAdjust="spacing">13856</text></g>
<g transform="translate(771.50 137.80) scale(0.58 1)"><text class="cad" x="0" y="0" font-size="11.59" textLength="33.62" lengthAdjust="spacing">13856</text></g>
<g transform="translate(642.00 223.10) rotate(-90) scale(0.58 1)"><text class="cad" x="0" y="0" font-size="10.47" textLength="27.76" lengthAdjust="spacing">3000</text></g>
<g transform="translate(625.90 243.20) rotate(-90) scale(0.58 1)"><text class="cad" x="0" y="0" font-size="10.47" textLength="29.66" lengthAdjust="spacing">6000</text></g>
<g transform="translate(642.00 262.70) rotate(-90) scale(0.58 1)"><text class="cad" x="0" y="0" font-size="10.47" textLength="29.66" lengthAdjust="spacing">3000</text></g>
<g transform="translate(825.90 205.20) rotate(-90) scale(0.58 1)"><text class="cad" x="0" y="0" font-size="11.17" textLength="35.17" lengthAdjust="spacing">12000</text></g>
<g transform="translate(825.40 232.70) rotate(-90) scale(0.58 1)"><text class="cad" x="0" y="0" font-size="10.47" textLength="29.83" lengthAdjust="spacing">6000</text></g>
<g transform="translate(825.40 253.60) rotate(-90) scale(0.58 1)"><text class="cad" x="0" y="0" font-size="10.47" textLength="29.83" lengthAdjust="spacing">6000</text></g>
<g transform="translate(825.90 284.40) rotate(-90) scale(0.58 1)"><text class="cad" x="0" y="0" font-size="11.17" textLength="35.17" lengthAdjust="spacing">12000</text></g>
<g transform="translate(843.60 245.50) rotate(-90) scale(0.58 1)"><text class="cad" x="0" y="0" font-size="11.31" textLength="38.79" lengthAdjust="spacing">36000</text></g>
<g transform="translate(482.20 410.30) scale(0.58 1)"><text class="cad" x="0" y="0" font-size="11.59" textLength="33.62" lengthAdjust="spacing">13856</text></g>
<g transform="translate(448.80 424.10) scale(0.58 1)"><text class="cad" x="0" y="0" font-size="12.57" textLength="30.69" lengthAdjust="spacing">3464</text></g>
<g transform="translate(483.20 424.10) scale(0.58 1)"><text class="cad" x="0" y="0" font-size="12.57" textLength="30.17" lengthAdjust="spacing">6928</text></g>
<g transform="translate(518.80 424.10) scale(0.58 1)"><text class="cad" x="0" y="0" font-size="12.57" textLength="29.48" lengthAdjust="spacing">3464</text></g>
<g transform="translate(538.90 453.90) rotate(-90) scale(0.58 1)"><text class="cad" x="0" y="0" font-size="10.06" textLength="28.79" lengthAdjust="spacing">3000</text></g>
<g transform="translate(527.60 470.30) rotate(-90) scale(0.58 1)"><text class="cad" x="0" y="0" font-size="10.89" textLength="32.41" lengthAdjust="spacing">3000</text></g>
<g transform="translate(527.60 486.20) rotate(-90) scale(0.58 1)"><text class="cad" x="0" y="0" font-size="10.89" textLength="28.79" lengthAdjust="spacing">3000</text></g>
<g transform="translate(538.90 502.90) rotate(-90) scale(0.58 1)"><text class="cad" x="0" y="0" font-size="10.06" textLength="30.86" lengthAdjust="spacing">3000</text></g>
<g transform="translate(557.40 482.60) rotate(-90) scale(0.58 1)"><text class="cad" x="0" y="0" font-size="10.75" textLength="39.14" lengthAdjust="spacing">12000</text></g>
<g transform="translate(725.70 406.70) scale(0.58 1)"><text class="cad" x="0" y="0" font-size="10.89" textLength="33.62" lengthAdjust="spacing">13856</text></g>
<g transform="translate(694.00 421.40) scale(0.58 1)"><text class="cad" x="0" y="0" font-size="10.89" textLength="30.69" lengthAdjust="spacing">3464</text></g>
<g transform="translate(726.50 421.40) scale(0.58 1)"><text class="cad" x="0" y="0" font-size="10.89" textLength="31.38" lengthAdjust="spacing">6928</text></g>
<g transform="translate(761.10 421.40) scale(0.58 1)"><text class="cad" x="0" y="0" font-size="10.89" textLength="31.38" lengthAdjust="spacing">3464</text></g>
<g transform="translate(777.10 449.10) rotate(-90) scale(0.58 1)"><text class="cad" x="0" y="0" font-size="10.89" textLength="28.79" lengthAdjust="spacing">3000</text></g>
<g transform="translate(768.70 470.00) rotate(-90) scale(0.58 1)"><text class="cad" x="0" y="0" font-size="9.92" textLength="31.90" lengthAdjust="spacing">3000</text></g>
<g transform="translate(768.70 486.20) rotate(-90) scale(0.58 1)"><text class="cad" x="0" y="0" font-size="9.92" textLength="28.79" lengthAdjust="spacing">3000</text></g>
<g transform="translate(777.10 507.70) rotate(-90) scale(0.58 1)"><text class="cad" x="0" y="0" font-size="10.89" textLength="28.79" lengthAdjust="spacing">3000</text></g>
<g transform="translate(793.90 480.20) rotate(-90) scale(0.58 1)"><text class="cad" x="0" y="0" font-size="11.73" textLength="36.03" lengthAdjust="spacing">12000</text></g>
<text class="cad" x="691.80" y="455.00" font-size="10.5" textLength="23.00" lengthAdjust="spacingAndGlyphs" transform="rotate(15.6 691.80 455.00)" >Ø3464</text>
<text class="cjkb" x="420.20" y="338.46" font-size="15.47" textLength="17.00" lengthAdjust="spacingAndGlyphs" >标高</text>
<g transform="translate(438.70 338.90) scale(0.62 1)"><text class="capn" x="0" y="0" font-size="17.32" textLength="78.39" lengthAdjust="spacing">±0.000m</text></g>
<text class="cjkb" x="487.80" y="338.46" font-size="15.47" textLength="25.50" lengthAdjust="spacingAndGlyphs" >至标高</text>
<g transform="translate(515.00 338.90) scale(0.62 1)"><text class="capn" x="0" y="0" font-size="17.32" textLength="75.81" lengthAdjust="spacing">13.500m</text></g>
<text class="cjkb" x="562.00" y="338.46" font-size="15.47" textLength="27.40" lengthAdjust="spacingAndGlyphs" >俯视图</text>
<g transform="translate(594.30 338.40) scale(0.58 1)"><text class="elv" x="0" y="0" font-size="10.75" textLength="40.69" lengthAdjust="spacing">1:1000</text></g>
<text class="cjkb" x="650.70" y="338.75" font-size="15.58" textLength="17.70" lengthAdjust="spacingAndGlyphs" >标高</text>
<g transform="translate(669.20 339.20) scale(0.62 1)"><text class="capn" x="0" y="0" font-size="17.46" textLength="79.68" lengthAdjust="spacing">93.500m</text></g>
<text class="cjkb" x="719.10" y="338.75" font-size="15.58" textLength="26.20" lengthAdjust="spacingAndGlyphs" >至标高</text>
<g transform="translate(746.00 339.20) scale(0.62 1)"><text class="capn" x="0" y="0" font-size="17.46" textLength="83.55" lengthAdjust="spacing">114.000m</text></g>
<text class="cjkb" x="797.80" y="338.75" font-size="15.58" textLength="26.20" lengthAdjust="spacingAndGlyphs" >俯视图</text>
<g transform="translate(830.30 338.40) scale(0.58 1)"><text class="elv" x="0" y="0" font-size="10.75" textLength="41.55" lengthAdjust="spacing">1:1000</text></g>
<text class="cjkb" x="420.20" y="540.01" font-size="16.11" textLength="17.80" lengthAdjust="spacingAndGlyphs" >标高</text>
<g transform="translate(439.20 540.50) scale(0.62 1)"><text class="capn" x="0" y="0" font-size="18.16" textLength="74.52" lengthAdjust="spacing">13.500m</text></g>
<text class="cjkb" x="485.90" y="540.01" font-size="16.11" textLength="26.20" lengthAdjust="spacingAndGlyphs" >至标高</text>
<g transform="translate(513.30 540.50) scale(0.62 1)"><text class="capn" x="0" y="0" font-size="18.16" textLength="78.55" lengthAdjust="spacing">93.500m</text></g>
<text class="cjkb" x="562.00" y="540.01" font-size="16.11" textLength="26.70" lengthAdjust="spacingAndGlyphs" >俯视图</text>
<g transform="translate(594.30 540.50) scale(0.58 1)"><text class="elv" x="0" y="0" font-size="12.57" textLength="40.69" lengthAdjust="spacing">1:1000</text></g>
<text class="cjkb" x="656.50" y="540.21" font-size="17.37" textLength="17.70" lengthAdjust="spacingAndGlyphs" >标高</text>
<g transform="translate(675.00 540.80) scale(0.62 1)"><text class="capn" x="0" y="0" font-size="19.83" textLength="83.55" lengthAdjust="spacing">114.000m</text></g>
<text class="cjkb" x="727.50" y="540.21" font-size="17.37" textLength="26.70" lengthAdjust="spacingAndGlyphs" >至标高</text>
<g transform="translate(755.40 540.80) scale(0.62 1)"><text class="capn" x="0" y="0" font-size="19.83" textLength="85.97" lengthAdjust="spacing">142.000m</text></g>
<text class="cjkb" x="808.70" y="540.21" font-size="17.37" textLength="27.90" lengthAdjust="spacingAndGlyphs" >俯视图</text>
<g transform="translate(841.70 540.40) scale(0.58 1)"><text class="elv" x="0" y="0" font-size="14.25" textLength="41.55" lengthAdjust="spacing">1:1000</text></g>
<text class="cjkb" x="174.00" y="601.70" font-size="16.21" textLength="25.40" lengthAdjust="spacingAndGlyphs" >主视图</text>
<g transform="translate(205.00 602.80) scale(0.58 1)"><text class="elv" x="0" y="0" font-size="12.99" textLength="40.17" lengthAdjust="spacing">1:1000</text></g>
<text class="cjk" x="8.38" y="23.20" font-size="20.00" textLength="14.07" lengthAdjust="spacingAndGlyphs">第</text>
<text class="cjk" x="21.94" y="23.20" font-size="20.00" textLength="14.07" lengthAdjust="spacingAndGlyphs">十</text>
<text class="cjk" x="35.50" y="23.20" font-size="20.00" textLength="14.07" lengthAdjust="spacingAndGlyphs">九</text>
<text class="cjk" x="49.06" y="23.20" font-size="20.00" textLength="14.07" lengthAdjust="spacingAndGlyphs">期</text>
<text class="cjk" x="74.98" y="24.47" font-size="23.00">“</text>
<text class="cjk" x="82.96" y="23.20" font-size="20.00" textLength="14.07" lengthAdjust="spacingAndGlyphs">全</text>
<text class="cjk" x="96.52" y="23.20" font-size="20.00" textLength="14.07" lengthAdjust="spacingAndGlyphs">国</text>
<text class="cjk" x="110.4" y="24.1" font-size="22.29" textLength="20.8" lengthAdjust="spacingAndGlyphs">BIM</text>
<text class="cjk" x="130.42" y="23.20" font-size="20.00" textLength="14.07" lengthAdjust="spacingAndGlyphs">技</text>
<text class="cjk" x="143.98" y="23.20" font-size="20.00" textLength="14.07" lengthAdjust="spacingAndGlyphs">能</text>
<text class="cjk" x="157.54" y="23.20" font-size="20.00" textLength="14.07" lengthAdjust="spacingAndGlyphs">等</text>
<text class="cjk" x="171.10" y="23.20" font-size="20.00" textLength="14.07" lengthAdjust="spacingAndGlyphs">级</text>
<text class="cjk" x="184.66" y="23.20" font-size="20.00" textLength="14.07" lengthAdjust="spacingAndGlyphs">考</text>
<text class="cjk" x="198.22" y="23.20" font-size="20.00" textLength="14.07" lengthAdjust="spacingAndGlyphs">试</text>
<text class="cjk" x="213.08" y="24.47" font-size="23.00">”</text>
<text class="cjk" x="225.34" y="23.20" font-size="20.00" textLength="14.07" lengthAdjust="spacingAndGlyphs">一</text>
<text class="cjk" x="238.90" y="23.20" font-size="20.00" textLength="14.07" lengthAdjust="spacingAndGlyphs">级</text>
<text class="cjk" x="252.46" y="23.20" font-size="20.00" textLength="14.07" lengthAdjust="spacingAndGlyphs">试</text>
<text class="cjk" x="266.02" y="23.20" font-size="20.00" textLength="14.07" lengthAdjust="spacingAndGlyphs">题</text>
<text class="cjk" x="839.98" y="22.56" font-size="19.08" textLength="13.58" lengthAdjust="spacingAndGlyphs">中</text>
<text class="cjk" x="853.48" y="22.56" font-size="19.08" textLength="13.58" lengthAdjust="spacingAndGlyphs">国</text>
<text class="cjk" x="866.98" y="22.56" font-size="19.08" textLength="13.58" lengthAdjust="spacingAndGlyphs">图</text>
<text class="cjk" x="880.48" y="22.56" font-size="19.08" textLength="13.58" lengthAdjust="spacingAndGlyphs">学</text>
<text class="cjk" x="893.98" y="22.56" font-size="19.08" textLength="13.58" lengthAdjust="spacingAndGlyphs">学</text>
<text class="cjk" x="907.48" y="22.56" font-size="19.08" textLength="13.58" lengthAdjust="spacingAndGlyphs">会</text>
<text class="cjks" x="17.21" y="48.79" font-size="14.37" textLength="10.99" lengthAdjust="spacingAndGlyphs">三</text>
<text class="cjks" x="27.51" y="48.79" font-size="14.37" textLength="10.21" lengthAdjust="spacingAndGlyphs">、</text>
<text class="cjks" x="37.63" y="48.79" font-size="14.37" textLength="10.99" lengthAdjust="spacingAndGlyphs">根</text>
<text class="cjks" x="47.84" y="48.79" font-size="14.37" textLength="10.99" lengthAdjust="spacingAndGlyphs">据</text>
<text class="cjks" x="58.05" y="48.79" font-size="14.37" textLength="10.99" lengthAdjust="spacingAndGlyphs">给</text>
<text class="cjks" x="68.26" y="48.79" font-size="14.37" textLength="10.99" lengthAdjust="spacingAndGlyphs">定</text>
<text class="cjks" x="78.47" y="48.79" font-size="14.37" textLength="10.99" lengthAdjust="spacingAndGlyphs">尺</text>
<text class="cjks" x="88.68" y="48.79" font-size="14.37" textLength="10.99" lengthAdjust="spacingAndGlyphs">寸</text>
<text class="cjks" x="98.98" y="48.79" font-size="14.37" textLength="10.21" lengthAdjust="spacingAndGlyphs">，</text>
<text class="cjks" x="109.10" y="48.79" font-size="14.37" textLength="10.99" lengthAdjust="spacingAndGlyphs">用</text>
<text class="cjks" x="119.31" y="48.79" font-size="14.37" textLength="10.99" lengthAdjust="spacingAndGlyphs">适</text>
<text class="cjks" x="129.52" y="48.79" font-size="14.37" textLength="10.99" lengthAdjust="spacingAndGlyphs">当</text>
<text class="cjks" x="139.73" y="48.79" font-size="14.37" textLength="10.99" lengthAdjust="spacingAndGlyphs">方</text>
<text class="cjks" x="149.94" y="48.79" font-size="14.37" textLength="10.99" lengthAdjust="spacingAndGlyphs">式</text>
<text class="cjks" x="160.15" y="48.79" font-size="14.37" textLength="10.99" lengthAdjust="spacingAndGlyphs">创</text>
<text class="cjks" x="170.36" y="48.79" font-size="14.37" textLength="10.99" lengthAdjust="spacingAndGlyphs">建</text>
<text class="cjks" x="180.57" y="48.79" font-size="14.37" textLength="10.99" lengthAdjust="spacingAndGlyphs">高</text>
<text class="cjks" x="190.78" y="48.79" font-size="14.37" textLength="10.99" lengthAdjust="spacingAndGlyphs">塔</text>
<text class="cjks" x="200.99" y="48.79" font-size="14.37" textLength="10.99" lengthAdjust="spacingAndGlyphs">模</text>
<text class="cjks" x="211.20" y="48.79" font-size="14.37" textLength="10.99" lengthAdjust="spacingAndGlyphs">型</text>
<text class="cjks" x="221.50" y="48.79" font-size="14.37" textLength="10.21" lengthAdjust="spacingAndGlyphs">，</text>
<text class="cjks" x="231.62" y="48.79" font-size="14.37" textLength="10.99" lengthAdjust="spacingAndGlyphs">未</text>
<text class="cjks" x="241.83" y="48.79" font-size="14.37" textLength="10.99" lengthAdjust="spacingAndGlyphs">标</text>
<text class="cjks" x="252.04" y="48.79" font-size="14.37" textLength="10.99" lengthAdjust="spacingAndGlyphs">明</text>
<text class="cjks" x="262.25" y="48.79" font-size="14.37" textLength="10.99" lengthAdjust="spacingAndGlyphs">尺</text>
<text class="cjks" x="272.46" y="48.79" font-size="14.37" textLength="10.99" lengthAdjust="spacingAndGlyphs">寸</text>
<text class="cjks" x="282.67" y="48.79" font-size="14.37" textLength="10.99" lengthAdjust="spacingAndGlyphs">与</text>
<text class="cjks" x="292.88" y="48.79" font-size="14.37" textLength="10.99" lengthAdjust="spacingAndGlyphs">样</text>
<text class="cjks" x="303.09" y="48.79" font-size="14.37" textLength="10.99" lengthAdjust="spacingAndGlyphs">式</text>
<text class="cjks" x="313.30" y="48.79" font-size="14.37" textLength="10.99" lengthAdjust="spacingAndGlyphs">不</text>
<text class="cjks" x="323.51" y="48.79" font-size="14.37" textLength="10.99" lengthAdjust="spacingAndGlyphs">作</text>
<text class="cjks" x="333.72" y="48.79" font-size="14.37" textLength="10.99" lengthAdjust="spacingAndGlyphs">要</text>
<text class="cjks" x="343.93" y="48.79" font-size="14.37" textLength="10.99" lengthAdjust="spacingAndGlyphs">求</text>
<text class="cjks" x="354.23" y="48.79" font-size="14.37" textLength="10.21" lengthAdjust="spacingAndGlyphs">。</text>
<text class="cjks" x="364.35" y="48.79" font-size="14.37" textLength="10.99" lengthAdjust="spacingAndGlyphs">请</text>
<text class="cjks" x="374.56" y="48.79" font-size="14.37" textLength="10.99" lengthAdjust="spacingAndGlyphs">将</text>
<text class="cjks" x="384.77" y="48.79" font-size="14.37" textLength="10.99" lengthAdjust="spacingAndGlyphs">模</text>
<text class="cjks" x="394.98" y="48.79" font-size="14.37" textLength="10.99" lengthAdjust="spacingAndGlyphs">型</text>
<text class="cjks" x="405.19" y="48.79" font-size="14.37" textLength="10.99" lengthAdjust="spacingAndGlyphs">以</text>
<text class="cjks" x="417.29" y="52.00" font-size="20.00">“</text>
<text class="cjks" x="425.61" y="48.79" font-size="14.37" textLength="10.99" lengthAdjust="spacingAndGlyphs">高</text>
<text class="cjks" x="435.82" y="48.79" font-size="14.37" textLength="10.99" lengthAdjust="spacingAndGlyphs">塔</text>
<text class="cjks" x="447.22" y="47.50" font-size="10.00" textLength="4.89" lengthAdjust="spacingAndGlyphs">+</text>
<text class="cjks" x="451.14" y="48.79" font-size="14.37" textLength="10.99" lengthAdjust="spacingAndGlyphs">考</text>
<text class="cjks" x="461.35" y="48.79" font-size="14.37" textLength="10.99" lengthAdjust="spacingAndGlyphs">生</text>
<text class="cjks" x="471.56" y="48.79" font-size="14.37" textLength="10.99" lengthAdjust="spacingAndGlyphs">姓</text>
<text class="cjks" x="481.77" y="48.79" font-size="14.37" textLength="10.99" lengthAdjust="spacingAndGlyphs">名</text>
<text class="cjks" x="493.77" y="49.6" font-size="14">.</text>
<text class="cjks" x="498.07" y="49.60" font-size="12.29" textLength="5.00" lengthAdjust="spacingAndGlyphs">x</text>
<text class="cjks" x="503.18" y="49.60" font-size="12.29" textLength="5.00" lengthAdjust="spacingAndGlyphs">x</text>
<text class="cjks" x="508.28" y="49.60" font-size="12.29" textLength="5.00" lengthAdjust="spacingAndGlyphs">x</text>
<text class="cjks" x="513.09" y="52.00" font-size="20.00">”</text>
<text class="cjks" x="522.61" y="48.79" font-size="14.37" textLength="10.99" lengthAdjust="spacingAndGlyphs">为</text>
<text class="cjks" x="532.82" y="48.79" font-size="14.37" textLength="10.99" lengthAdjust="spacingAndGlyphs">文</text>
<text class="cjks" x="543.03" y="48.79" font-size="14.37" textLength="10.99" lengthAdjust="spacingAndGlyphs">件</text>
<text class="cjks" x="553.24" y="48.79" font-size="14.37" textLength="10.99" lengthAdjust="spacingAndGlyphs">名</text>
<text class="cjks" x="563.45" y="48.79" font-size="14.37" textLength="10.99" lengthAdjust="spacingAndGlyphs">保</text>
<text class="cjks" x="573.66" y="48.79" font-size="14.37" textLength="10.99" lengthAdjust="spacingAndGlyphs">存</text>
<text class="cjks" x="583.87" y="48.79" font-size="14.37" textLength="10.99" lengthAdjust="spacingAndGlyphs">到</text>
<text class="cjks" x="594.08" y="48.79" font-size="14.37" textLength="10.99" lengthAdjust="spacingAndGlyphs">考</text>
<text class="cjks" x="604.29" y="48.79" font-size="14.37" textLength="10.99" lengthAdjust="spacingAndGlyphs">生</text>
<text class="cjks" x="614.50" y="48.79" font-size="14.37" textLength="10.99" lengthAdjust="spacingAndGlyphs">文</text>
<text class="cjks" x="624.71" y="48.79" font-size="14.37" textLength="10.99" lengthAdjust="spacingAndGlyphs">件</text>
<text class="cjks" x="634.92" y="48.79" font-size="14.37" textLength="10.99" lengthAdjust="spacingAndGlyphs">夹</text>
<text class="cjks" x="645.13" y="48.79" font-size="14.37" textLength="10.99" lengthAdjust="spacingAndGlyphs">中</text>
<text class="cjks" x="655.43" y="48.79" font-size="14.37" textLength="10.21" lengthAdjust="spacingAndGlyphs">。</text>
<text class="cjks" x="665.64" y="48.79" font-size="14.37" textLength="10.21" lengthAdjust="spacingAndGlyphs">（</text>
<text class="cjks" x="676.77" y="49.60" font-size="15.71" textLength="4.35" lengthAdjust="spacingAndGlyphs">2</text>
<text class="cjks" x="681.88" y="49.60" font-size="15.71" textLength="4.35" lengthAdjust="spacingAndGlyphs">0</text>
<text class="cjks" x="685.97" y="48.79" font-size="14.37" textLength="10.99" lengthAdjust="spacingAndGlyphs">分</text>
<text class="cjks" x="696.27" y="48.79" font-size="14.37" textLength="10.21" lengthAdjust="spacingAndGlyphs">）</text>
<text class="cjks" x="929.42" y="297.48" font-size="17.47" textLength="11.98" lengthAdjust="spacingAndGlyphs">第</text>
<text class="cjks" x="929.42" y="337.48" font-size="17.47" textLength="11.98" lengthAdjust="spacingAndGlyphs">页</text>
<text class="cjks" x="929.42" y="375.79" font-size="17.24" textLength="11.98" lengthAdjust="spacingAndGlyphs">共</text>
<text class="cjks" x="929.42" y="416.25" font-size="17.82" textLength="11.98" lengthAdjust="spacingAndGlyphs">页</text>
<text class="cjks" x="932.23" y="316.60" font-size="18.00" textLength="6.63" lengthAdjust="spacingAndGlyphs">3</text>
<text class="cjks" x="932.23" y="395.00" font-size="17.14" textLength="6.63" lengthAdjust="spacingAndGlyphs">9</text>
</svg>
</body></html>
